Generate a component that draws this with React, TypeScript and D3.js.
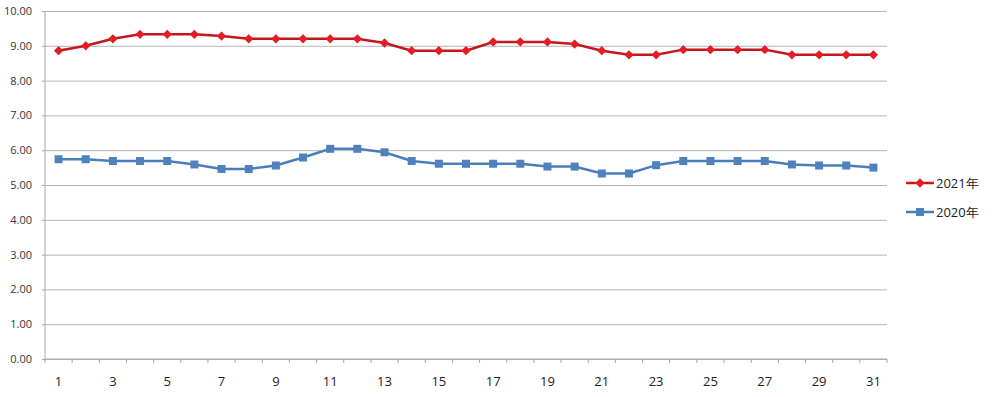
import React, { useEffect, useRef } from "react";
import * as d3 from "d3";

const days = d3.range(1, 32).map(String);

const series2021 = [
  8.86, 9.0, 9.2, 9.33, 9.33, 9.33, 9.28, 9.2, 9.2, 9.2, 9.2, 9.2, 9.08, 8.86, 8.86, 8.86,
  9.11, 9.11, 9.11, 9.05, 8.86, 8.74, 8.74, 8.89, 8.89, 8.89, 8.89, 8.74, 8.74, 8.74, 8.74,
];

const series2020 = [
  5.74, 5.74, 5.69, 5.69, 5.69, 5.59, 5.46, 5.46, 5.56, 5.79, 6.04, 6.04, 5.94, 5.69, 5.61, 5.61,
  5.61, 5.61, 5.53, 5.53, 5.33, 5.33, 5.57, 5.69, 5.69, 5.69, 5.69, 5.59, 5.56, 5.56, 5.5,
];

const yTicks = [0, 1, 2, 3, 4, 5, 6, 7, 8, 9, 10];
const legendLabels = ["2021年", "2020年"];

const W = 1000,
  H = 397;

const App = () => {
  const svgRef = useRef<SVGSVGElement>(null);

  useEffect(() => {
    const margin = { top: 11, right: 113, bottom: 38, left: 45 };
    const width = W - margin.left - margin.right;
    const height = H - margin.top - margin.bottom;

    const root = d3.select(svgRef.current);
    root.selectAll("*").remove();
    const svg = root.append("g").attr("transform", `translate(${margin.left},${margin.top})`);

    const x = d3.scaleBand().domain(days).range([0, width]);
    const y = d3.scaleLinear().domain([0, 10]).range([height, 0]);
    const font = "'Open Sans', 'Liberation Sans', sans-serif";

    // grid lines
    svg
      .append("g")
      .call(d3.axisLeft(y).tickValues(yTicks).tickSize(-width).tickFormat(() => ""))
      .call((g) => g.select(".domain").remove())
      .call((g) => g.selectAll(".tick line").attr("stroke", "#b4b4b4").attr("stroke-width", 1));

    // y axis
    svg
      .append("g")
      .call(d3.axisLeft(y).tickValues(yTicks).tickSize(3).tickPadding(10).tickFormat(d3.format(".2f")))
      .call((g) => g.select(".domain").attr("stroke", "#a6a6a6").attr("d", `M0,0V${height}`))
      .call((g) => g.selectAll(".tick line").attr("stroke", "#a6a6a6"))
      .call((g) =>
        g.selectAll("text").attr("fill", "#333").style("font-family", font).style("font-size", "11px")
      );

    // x axis, ticks between categories
    const xAxis = svg.append("g").attr("transform", `translate(0,${height})`);
    xAxis
      .append("line")
      .attr("x1", 0)
      .attr("x2", width)
      .attr("stroke", "#a6a6a6");
    const bounds = d3.range(0, days.length + 1).map((i) => (i < days.length ? x(days[i])! : width));
    xAxis
      .selectAll("line.tk")
      .data(bounds)
      .join("line")
      .attr("class", "tk")
      .attr("x1", (d) => d)
      .attr("x2", (d) => d)
      .attr("y1", 0)
      .attr("y2", 4)
      .attr("stroke", "#a6a6a6");
    xAxis
      .selectAll("text")
      .data(days.filter((_, i) => i % 2 === 0))
      .join("text")
      .attr("x", (d) => x(d)! + x.bandwidth() / 2)
      .attr("y", 22)
      .attr("dy", "0.35em")
      .attr("text-anchor", "middle")
      .attr("fill", "#222")
      .style("font-family", font)
      .style("font-size", "13px")
      .text((d) => d);

    const cx = (i: number) => x(days[i])! + x.bandwidth() / 2;
    const line = d3
      .line<number>()
      .x((_, i) => cx(i))
      .y((d) => y(d));

    // 2020 series (blue, squares)
    svg
      .append("path")
      .datum(series2020)
      .attr("fill", "none")
      .attr("stroke", "#4a7ebb")
      .attr("stroke-width", 2.5)
      .attr("d", line);
    svg
      .selectAll("rect.pt")
      .data(series2020)
      .join("rect")
      .attr("class", "pt")
      .attr("x", (_, i) => cx(i) - 4)
      .attr("y", (d) => y(d) - 4)
      .attr("width", 8)
      .attr("height", 8)
      .attr("fill", "#4f81bd");

    // 2021 series (red, diamonds)
    svg
      .append("path")
      .datum(series2021)
      .attr("fill", "none")
      .attr("stroke", "#c4161c")
      .attr("stroke-width", 2.5)
      .attr("d", line);
    const diamond = d3.symbol().type(d3.symbolDiamond2).size(55);
    svg
      .selectAll("path.pt")
      .data(series2021)
      .join("path")
      .attr("class", "pt")
      .attr("transform", (d, i) => `translate(${cx(i)},${y(d)})`)
      .attr("d", diamond)
      .attr("fill", "#e01e24");

    // legend
    const legend = root.append("g").attr("transform", "translate(906,183)");
    const legColors = [
      { line: "#c4161c", mark: "#e01e24", shape: "diamond" },
      { line: "#4a7ebb", mark: "#4f81bd", shape: "square" },
    ];
    legendLabels.forEach((label, i) => {
      const g = legend.append("g").attr("transform", `translate(0,${i * 29})`);
      g.append("line")
        .attr("x1", 0)
        .attr("x2", 28)
        .attr("stroke", legColors[i].line)
        .attr("stroke-width", 2.5);
      if (legColors[i].shape === "diamond") {
        g.append("path").attr("transform", "translate(14,0)").attr("d", diamond).attr("fill", legColors[i].mark);
      } else {
        g.append("rect").attr("x", 10).attr("y", -4).attr("width", 8).attr("height", 8).attr("fill", legColors[i].mark);
      }
      g.append("text")
        .attr("x", 30)
        .attr("dy", "0.35em")
        .attr("fill", "#222")
        .style("font-family", font)
        .style("font-size", "13px")
        .text(label);
    });
  }, []);

  return (
    <svg
      ref={svgRef}
      width={W}
      height={H}
      style={{ position: "absolute", left: 0, top: 0, background: "#fff" }}
    ></svg>
  );
};

export default App;
